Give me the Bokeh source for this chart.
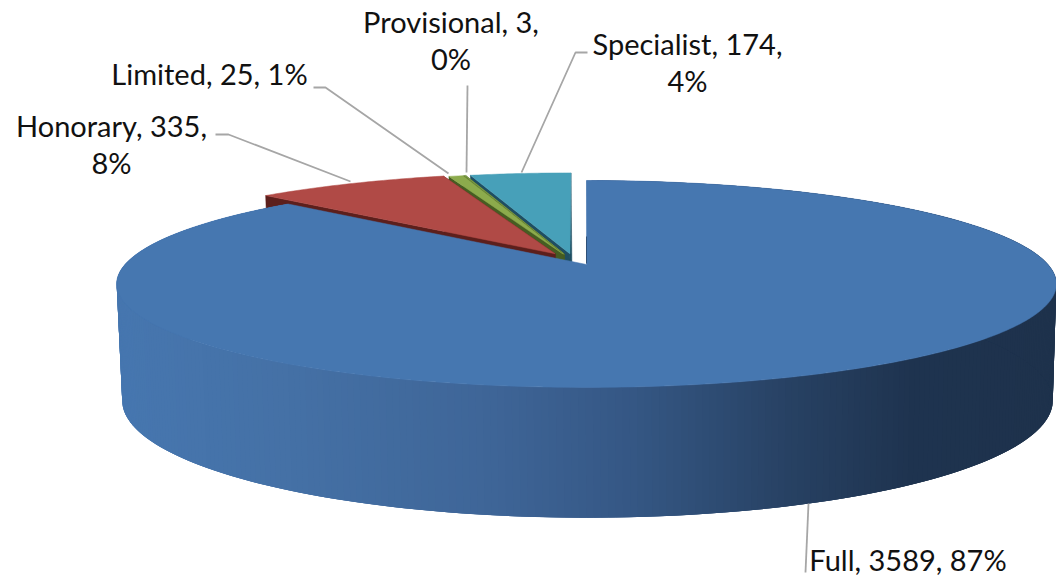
import numpy as np
from bokeh.core.properties import value
from bokeh.embed import file_html
from bokeh.models import Range1d
from bokeh.plotting import figure
from bokeh.resources import INLINE

categories = ["Full", "Honorary", "Limited", "Provisional", "Specialist"]
counts = [3589, 335, 25, 3, 174]
percents = [87, 8, 1, 0, 4]

top_colors = ["#4677B0", "#B04A46", "#8CAB4C", "#7F9F48", "#47A0B9"]
face_colors = ["#1F3552", "#5C1F1C", "#465D22", "#465D22", "#1F4E62"]

explode = [0.0, 0.13, 0.11, 0.11, 0.11]
shift_px = [0, 0, -9, -9, -10]

K = 0.188
TOP = dict(x0=586.0, y0=264.0, bx=461.5, by=99.8)
BOT = dict(x0=587.0, y0=378.0, bx=457.0, by=113.0)


def project(wx, wy, plane, dx=0.0):
    d = 1 + K * wy
    return plane["x0"] + dx + plane["bx"] * wx / d, plane["y0"] - plane["by"] * wy / d


fractions = np.array(counts) / sum(counts)
ends = np.cumsum(fractions) * 2 * np.pi
starts = ends - fractions * 2 * np.pi


def world_arc(i, n):
    t = np.linspace(starts[i], ends[i], n)
    mid = (starts[i] + ends[i]) / 2
    ox, oy = explode[i] * np.sin(mid), explode[i] * np.cos(mid)
    return ox + np.sin(t), oy + np.cos(t), ox, oy


def top_shape(i):
    n = max(4, int(fractions[i] * 600))
    ax, ay, ox, oy = world_arc(i, n)
    wx = np.r_[ox, ax]
    wy = np.r_[oy, ay]
    return project(wx, wy, TOP, shift_px[i])


p = figure(width=1056, height=581, output_backend="svg", toolbar_location=None,
           x_range=Range1d(0, 1056), y_range=Range1d(581, 0),
           min_border=0)
p.axis.visible = False
p.grid.visible = False
p.outline_line_color = None
p.background_fill_color = "white"
p.border_fill_color = "white"

# the small exploded slices, far to near, each with its cut faces
for i in [4, 3, 2, 1]:
    ax, ay, ox, oy = world_arc(i, 4)
    for k in (0, -1):
        tx, ty = project(np.array([ox, ax[k]]), np.array([oy, ay[k]]), TOP, shift_px[i])
        bx, by = project(np.array([ax[k], ox]), np.array([ay[k], oy]), BOT, shift_px[i])
        p.patch(np.r_[tx, bx], np.r_[ty, by], fill_color=face_colors[i],
                line_color=face_colors[i], line_width=0.5)
    x, y = top_shape(i)
    p.patch(x, y, fill_color=top_colors[i], line_color=top_colors[i], line_width=0.5)

# outer wall of the big slice, shaded left to right
stops_x = [117, 300, 500, 650, 800, 920, 1056]
stops_r = [0x47, 0x45, 0x3F, 0x35, 0x28, 0x1F, 0x1E]
stops_g = [0x77, 0x71, 0x66, 0x57, 0x42, 0x34, 0x32]
stops_b = [0xB0, 0xA6, 0x98, 0x84, 0x64, 0x50, 0x4C]

t = np.linspace(starts[0], ends[0], 420)
wx, wy = np.sin(t), np.cos(t)
tx, ty = project(wx, wy, TOP)
bx, by = project(wx, wy, BOT)
order = np.argsort(-np.arange(len(t) - 1))
xs, ys, cols = [], [], []
for j in order:
    e = min(j + 3, len(t) - 1)
    xs.append([tx[j], tx[e], bx[e], bx[j]])
    ys.append([ty[j], ty[e], by[e], by[j]])
    m = (tx[j] + tx[j + 1]) / 2
    r = np.interp(m, stops_x, stops_r)
    g = np.interp(m, stops_x, stops_g)
    b = np.interp(m, stops_x, stops_b)
    cols.append("#%02x%02x%02x" % (int(r), int(g), int(b)))
p.patches(xs, ys, fill_color=cols, line_color=None)

# top of the big slice
x, y = top_shape(0)
p.patch(x, y, fill_color=top_colors[0], line_color=top_colors[0], line_width=0.5)
p.line([586, 586], [236, 263], line_color="#2F5078", line_width=1)

# leader lines
leaders_x = [[808, 805], [350, 228, 215], [448, 325, 313], [466, 467], [521, 575, 587]]
leaders_y = [[503, 572], [181, 134, 134], [173, 87, 87], [172, 85], [172, 52, 52]]
p.multi_line(leaders_x, leaders_y, line_color="#A6A6A6", line_width=1.8)

# labels
lab = {c: f"{c}, {v}, {q}%" for c, v, q in zip(categories, counts, percents)}
parts = {
    "Full": [lab["Full"]],
    "Honorary": [f"Honorary, {counts[1]},", f"{percents[1]}%"],
    "Limited": [lab["Limited"]],
    "Provisional": [f"Provisional, {counts[3]},", f"{percents[3]}%"],
    "Specialist": [f"Specialist, {counts[4]},", f"{percents[4]}%"],
}
anchors = {"Full": (907.5, 559), "Honorary": (111, 125), "Limited": (209, 73),
           "Provisional": (450.5, 21), "Specialist": (687, 43)}
LINE = 37
tx_, ty_, tt_ = [], [], []
for c in categories:
    ax_, ay_ = anchors[c]
    for n, s in enumerate(parts[c]):
        tx_.append(ax_)
        ty_.append(ay_ + n * LINE)
        tt_.append(s)
p.text(tx_, ty_, text=tt_, text_font=value("Lato"), text_font_size="29px",
       text_color="#111111", text_align="center", text_baseline="middle")

open("out.html", "w").write(file_html(p, INLINE))
